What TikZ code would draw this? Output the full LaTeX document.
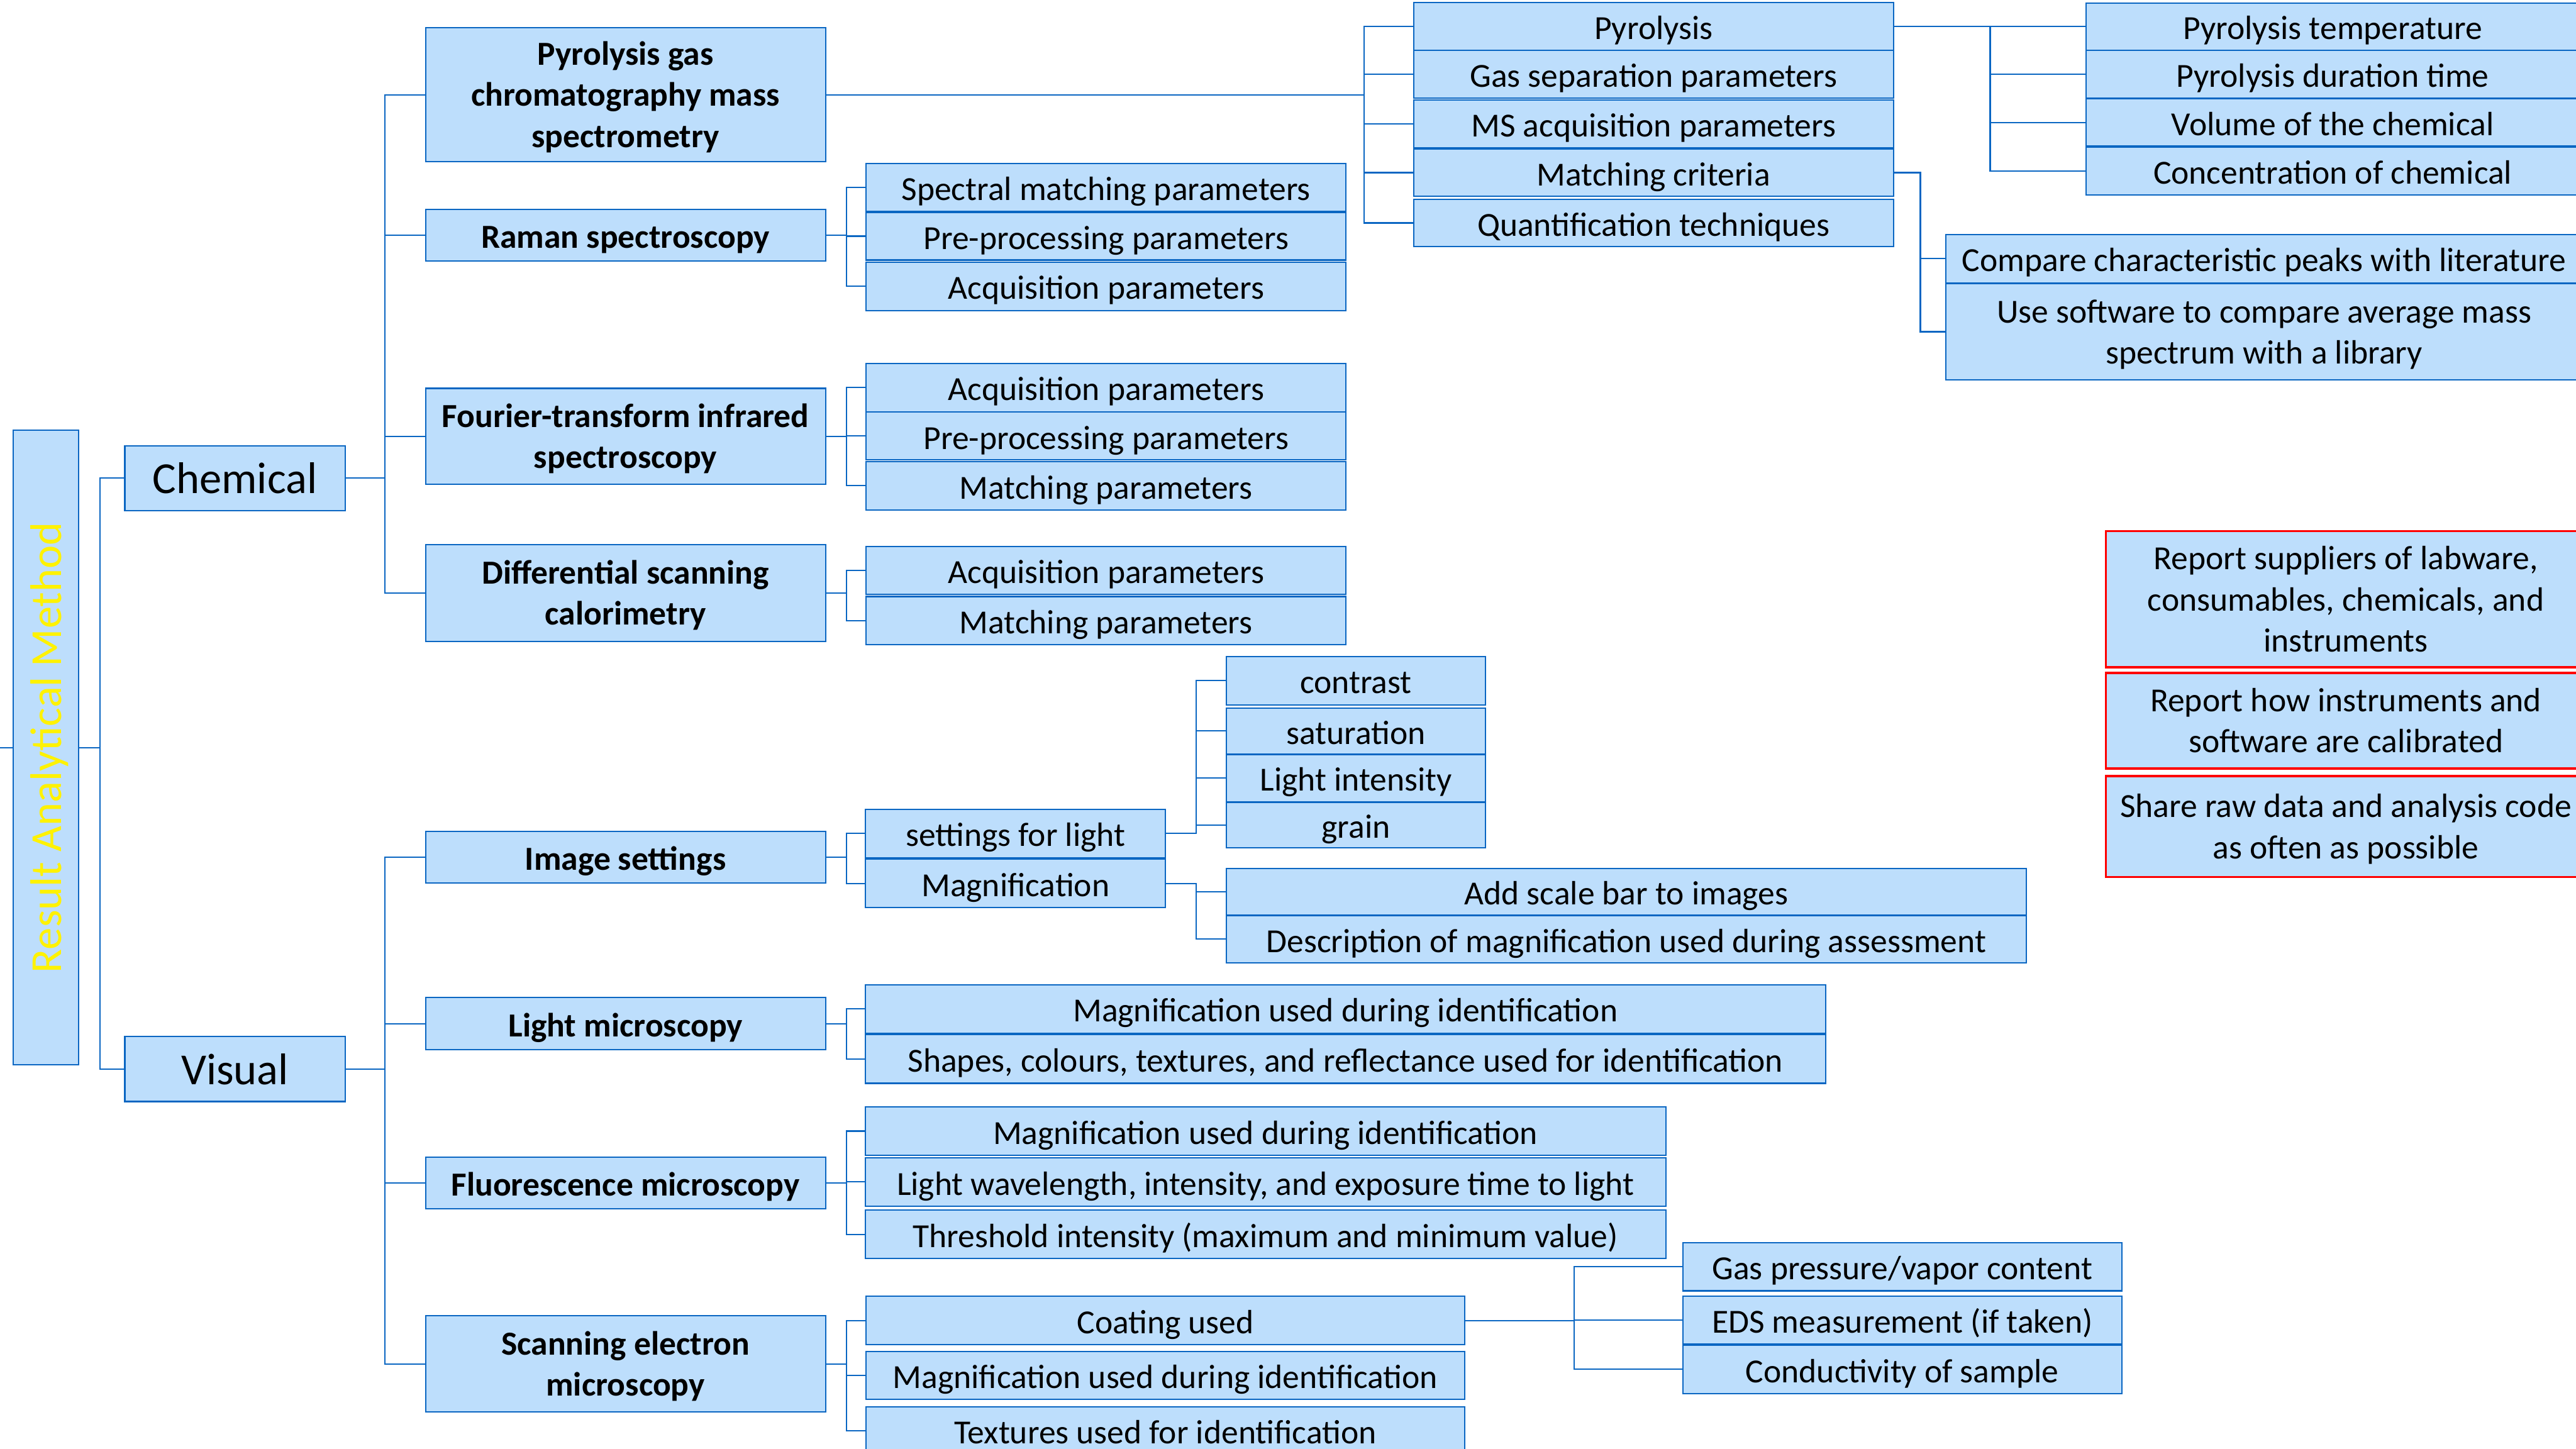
\documentclass[tikz,border=0pt]{standalone}
\usepackage{fontspec}
\setmainfont{Carlito}
\definecolor{boxfill}{HTML}{BDDEFC}
\definecolor{boxline}{HTML}{0A66C2}
\def\bxdrop{3pt}
\tikzset{
  dropby/.code={\def\bxdrop{#1}},
  box/.style={draw=boxline, fill=boxfill, line width=0.8pt, inner sep=0pt,
    font=\fontsize{20.5}{25}\selectfont, dropby=2.9pt},
  multi/.style={dropby=2pt},
  methbox/.style={box, font=\fontsize{20.5}{25}\selectfont\bfseries},
  catbox/.style={box, font=\fontsize{27}{32}\selectfont, dropby=2.9pt},
  redbox/.style={box, draw=red, line width=1.4pt},
  conn/.style={draw=boxline, line width=0.8pt},
}
% \bx[style]{name}{x1}{y1}{x2}{y2}{text}: box spanning the given corners,
% text lines centred and lowered by \bxdrop
\newcommand\bx[7][]{%
  \pgfmathsetmacro\bxw{#5-#3}%
  \pgfmathsetmacro\bxh{#6-#4}%
  \node[box,minimum width=\bxw pt,minimum height=\bxh pt,#1] (#2)
    at ({(#3+#5)/2},{(#4+#6)/2})
    {\raisebox{-\bxdrop}[\height][\depth]{\begin{tabular}{@{}c@{}}#7\end{tabular}}};}
\begin{document}
\begin{tikzpicture}[x=1pt,y=-1pt]
\clip (0,0) rectangle (1568,882);
\fill[white] (0,0) rectangle (1568,882);

% root and the two categories
\bx{root}{8}{262}{48}{648}{}
\node[rotate=90, text=yellow, font=\fontsize{27}{32}\selectfont, inner sep=0pt]
  (roottxt) at (root.center)
  {\raisebox{-3pt}[\height][\depth]{\begin{tabular}{@{}c@{}}Result Analytical Method\end{tabular}}};
\coordinate (lefte) at (0,455);
\bx[catbox]{chem}{76}{271.4}{210}{310.7}{Chemical}
\bx[catbox]{vis}{76}{631}{210}{670.5}{Visual}

% methods
\bx[methbox,multi]{pygc}{259}{17}{502.5}{98.3}{Pyrolysis gas\\chromatography mass\\spectrometry}
\bx[methbox]{raman}{259}{127.6}{502.5}{159}{Raman spectroscopy}
\bx[methbox,multi]{ftir}{259}{236.4}{502.5}{294.8}{Fourier-transform infrared\\spectroscopy}
\bx[methbox,multi]{dsc}{259}{331.6}{502.5}{390.3}{Differential scanning\\calorimetry}
\bx[methbox]{imgset}{259}{506}{502.5}{537.3}{Image settings}
\bx[methbox]{lm}{259}{607.3}{502.5}{638.8}{Light microscopy}
\bx[methbox]{fm}{259}{704.4}{502.5}{735.8}{Fluorescence microscopy}
\bx[methbox,multi]{sem}{259}{800.9}{502.5}{859.5}{Scanning electron\\microscopy}

% Raman
\bx{ramA}{527.2}{99.5}{819.3}{128.7}{Spectral matching parameters}
\bx{ramB}{527.2}{129.2}{819.3}{158.3}{Pre-processing parameters}
\bx{ramC}{527.2}{159.6}{819.3}{189}{Acquisition parameters}
% FTIR
\bx{ftA}{527.2}{221.3}{819.3}{250.6}{Acquisition parameters}
\bx{ftB}{527.2}{250.9}{819.3}{280}{Pre-processing parameters}
\bx{ftC}{527.2}{281}{819.3}{310.4}{Matching parameters}
% DSC
\bx{dsA}{527.2}{332.6}{819.3}{361.8}{Acquisition parameters}
\bx{dsB}{527.2}{363.1}{819.3}{392.4}{Matching parameters}

% Py-GC-MS
\bx{py1}{860.4}{1.5}{1152.6}{30.5}{Pyrolysis}
\bx{py2}{860.4}{30.8}{1152.6}{59.8}{Gas separation parameters}
\bx{py3}{860.4}{61}{1152.6}{90}{MS acquisition parameters}
\bx{py4}{860.4}{90.6}{1152.6}{119.6}{Matching criteria}
\bx{py5}{860.4}{121.2}{1152.6}{150.2}{Quantification techniques}
\bx{pt1}{1269.8}{1.8}{1570}{30.5}{Pyrolysis temperature}
\bx{pt2}{1269.8}{30.5}{1570}{59.8}{Pyrolysis duration time}
\bx{pt3}{1269.8}{60}{1570}{89}{Volume of the chemical}
\bx{pt4}{1269.8}{89.4}{1570}{118.7}{Concentration of chemical}
\bx{mc1}{1184.3}{142.8}{1572}{172.1}{Compare characteristic peaks with literature}
\bx[multi]{mc2}{1184.3}{172.7}{1572}{231.2}{Use software to compare average mass\\spectrum with a library}

% general reporting notes
\bx[redbox,multi]{rA}{1281.8}{323.3}{1574}{406.2}{Report suppliers of labware,\\consumables, chemicals, and\\instruments}
\bx[redbox,multi]{rB}{1281.8}{409.6}{1574}{467.7}{Report how instruments and\\software are calibrated}
\bx[redbox,multi]{rC}{1281.8}{472.3}{1574}{533.8}{Share raw data and analysis code\\as often as possible}

% image settings
\bx{isA}{526.9}{492.7}{709.4}{522}{settings for light}
\bx{isB}{526.9}{523}{709.4}{552.5}{Magnification}
\bx{lA}{746.5}{399.6}{904.3}{429}{contrast}
\bx{lB}{746.5}{431}{904.3}{459}{saturation}
\bx{lC}{746.5}{459.3}{904.3}{488}{Light intensity}
\bx{lD}{746.5}{488.3}{904.3}{516.1}{grain}
\bx{mA}{746.5}{528.7}{1233.3}{556.9}{Add scale bar to images}
\bx{mB}{746.5}{557.3}{1233.3}{586.1}{Description of magnification used during assessment}

% light microscopy
\bx{lmA}{526.6}{599.4}{1111.3}{628.8}{Magnification used during identification}
\bx{lmB}{526.6}{629.6}{1111.3}{659.4}{Shapes, colours, textures, and reflectance used for identification}
% fluorescence microscopy
\bx{fmA}{526.6}{673.7}{1014}{703.3}{Magnification used during identification}
\bx{fmB}{526.6}{704.7}{1014}{734.2}{Light wavelength, intensity, and exposure time to light}
\bx{fmC}{526.6}{736.6}{1014}{766}{Threshold intensity (maximum and minimum value)}
% SEM
\bx{seA}{527}{789.1}{891.7}{818.4}{Coating used}
\bx{seB}{527}{822.6}{891.7}{851.9}{Magnification used during identification}
\bx{seC}{527}{856.3}{891.7}{885.7}{Textures used for identification}
\bx{coA}{1024.3}{756.3}{1291.5}{785.7}{Gas pressure/vapor content}
\bx{coB}{1024.3}{788.8}{1291.5}{818.2}{EDS measurement (if taken)}
\bx{coC}{1024.3}{818.9}{1291.5}{848.2}{Conductivity of sample}

% connectors
\draw[conn] (lefte) -- (root.west);
\foreach \c in {chem,vis} \draw[conn] (root.east) -- ++(12.5,0) |- (\c.west);
\foreach \c in {pygc,raman,ftir,dsc} \draw[conn] (chem.east) -- ++(24,0) |- (\c.west);
\foreach \c in {imgset,lm,fm,sem} \draw[conn] (vis.east) -- ++(24,0) |- (\c.west);
\foreach \c in {py1,py2,py3,py4,py5} \draw[conn] (pygc.east) -- ++(327.5,0) |- (\c.west);
\foreach \c in {pt1,pt2,pt3,pt4} \draw[conn] (py1.east) -- ++(58.4,0) |- (\c.west);
\foreach \c in {mc1,mc2} \draw[conn] (py4.east) -- ++(15.9,0) |- (\c.west);
\foreach \c in {ramA,ramB,ramC} \draw[conn] (raman.east) -- ++(12.2,0) |- (\c.west);
\foreach \c in {ftA,ftB,ftC} \draw[conn] (ftir.east) -- ++(12.2,0) |- (\c.west);
\foreach \c in {dsA,dsB} \draw[conn] (dsc.east) -- ++(12.2,0) |- (\c.west);
\foreach \c in {isA,isB} \draw[conn] (imgset.east) -- ++(12.2,0) |- (\c.west);
\foreach \c in {lA,lB,lC,lD} \draw[conn] (isA.east) -- ++(18.3,0) |- (\c.west);
\foreach \c in {mA,mB} \draw[conn] (isB.east) -- ++(18.3,0) |- (\c.west);
\foreach \c in {lmA,lmB} \draw[conn] (lm.east) -- ++(12.2,0) |- (\c.west);
\foreach \c in {fmA,fmB,fmC} \draw[conn] (fm.east) -- ++(12.2,0) |- (\c.west);
\foreach \c in {seA,seB,seC} \draw[conn] (sem.east) -- ++(12.2,0) |- (\c.west);
\foreach \c in {coA,coB,coC} \draw[conn] (seA.east) -- ++(66,0) |- (\c.west);
\end{tikzpicture}
\end{document}
